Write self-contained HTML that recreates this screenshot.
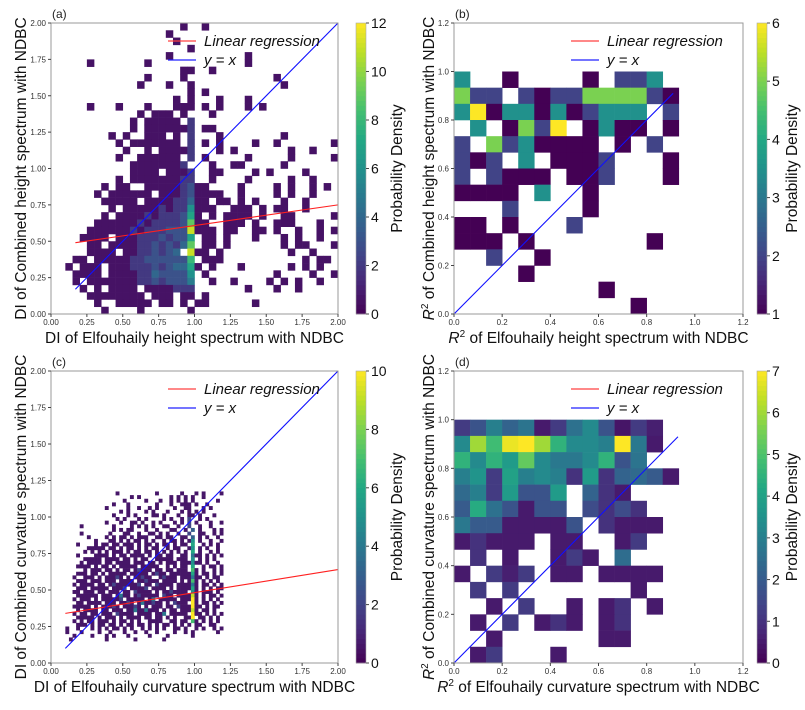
<!DOCTYPE html>
<html><head><meta charset="utf-8"><style>
body{margin:0;background:#fff}
svg text{font-family:"Liberation Sans",sans-serif}
</style></head><body>
<svg id="chart" width="805" height="705" viewBox="0 0 805 705" xmlns="http://www.w3.org/2000/svg"></svg>
<script>
// ---- data: panel (a) 2D histogram rows (top y=2.0 -> bottom y=0), 40 cols x 0..2 bin 0.05
const aRows = [
".......... ........1. .1........ ..........",
".......... ......1... .......... ..........",
".......... .......1.. .......... ..........",
".......... .........1 .......... ..........",
".......... ......1... .......1.. ..........",
".....1.... ...1...... .......1.. ..........",
".......... ........11 ..1....... ..........",
".......... ...1....1. .......... .1........",
".......... ..1...1..1 .......... ..1.......",
".......... .........1 .1........ ..........",
".......... .......1.1 ...1...1.. ..........",
".....1...1 ...1...111 .1.1...1.1 ..........",
".......... ..1.111.1. ..1....... ..........",
".......... .1.11111.2 .......... ..........",
".......... .1.1111112 .11....... ..........",
"........1. 1..111.1.2 ...1...... ..1.......",
".........1 .1111111.2 .1.1....1. .1.......1",
".......... 1..1.11112 ...1.1.... ...1..1...",
".........1 ..111111.2 .1.....1.. ...1.....1",
".......... .11111112. ..1..11... ..1.......",
".......... .1111.1112 ..11....1. 1....1....",
".........1 .111111122 ..1....1.. ...1..1...",
".......1.1 1..1111123 11....1... .1.1..1.1.",
"......1.11 1111.11123 1111..1... .1.1..1...",
".......111 11.1111224 11.11.1.1. ..1..1....",
"........1. 1111121226 111..111.1 .11..1....",
".......1.1 1112122237 1.1.1111.1 ..11.....1",
"......1111 1121222239 11..111.1. .111...1..",
".....11111 121222333b 111.11..11 .1..1..1.1",
"....1111.1 1122232337 .11.1...1. ..1.1..1..",
".....11.11 1122323249 .11.1..... ..1.11...1",
".....1111. 11223234.b 11.1...... ...1..1...",
"...11.1111 1223333338 .111...... .....1.11.",
"..1.111.11 1222323447 1.1...1... ...1.1.1..",
"...1111.11 1122433336 .1........ .1....1..1",
"...1.11111 1122323335 ..1..1.... 1.1.1..1..",
"....1.1.11 11.1111222 .......1.. .1..1.....",
".....11111 111.111.11 .1........ ..........",
"......1..1 1111.11.1. 11......1. ..........",
".......1.. ..1......1 .......... .........."
];
// panel (b): rows top (y 0.933-1.0) -> bottom, 14 cols bin 1/15
const bRows = [
[3.5,0,0,1,0,0,0,0,1,0,2,2,3.5,0],
[5,2,2,0,2,1,2,2,5,5,5,5,2,1],
[3.5,6,1,3.5,3.5,1,3.5,1,2,3.5,3.5,3.5,0,2],
[0,3.5,0,1,5,2,6,0,1,3.5,1,1,0,1],
[2,0,5,2,3.5,1,1,1,1,0,1,0,2,0],
[2,1,2,0,3.5,0,1,1,1,2,0,0,0,1],
[2,0,2,1,1,1,0,1,1,2,0,0,0,1],
[1,1,1,1,0,3.5,0,0,1,0,0,0,0,0],
[0,0,0,2,0,0,0,0,1,0,0,0,0,0],
[1,1,0,1,0,0,0,2,0,0,0,0,0,0],
[1,1,1,0,1,0,0,0,0,0,0,0,1,0],
[0,0,2,0,0,1,0,0,0,0,0,0,0,0],
[0,0,0,0,1,0,0,0,0,0,0,0,0,0],
[0,0,0,0,0,0,0,0,0,1,0,0,0,0],
[0,0,0,0,0,0,0,0,0,0,0,1,0,0]
];
// panel (c): rows top (y 1.15) -> bottom (y 0.15), 44 cols x 0.1..1.2 bin 0.025
const cRows = [
"........... ...1....... ...1......1 ...1.1....1",
"........... .......1.1. .......1.1. 1.1..1.....",
"........... .....1..... 1...1..1.1. 1.1......1.",
"........... ..1...1.... ...1...1..1 11.1..1....",
"........... 1.....1..1. .1.1....1.. 11...1.1...",
"........... ....1.1.... 1.1...1...1 .1.1.1.....",
"........... ..1...1.1.. ..11.1...1. .11.1...1..",
"........... ...1.1...1. 1....1.1..1 .2..1.1....",
"........... 1...1..11.1 ..1.1...1.1 .2.1...1..1",
"....1...... ..1....1.1. 1.1..11..1. .2..1..1...",
"........... ..1.1.11... 1..1...11.. 1.3.1...1.1",
"....1...... .1...11..1. .11.1.1..1. .2..11..1.1",
"......1.... 1.1.11.1.11 1..11.11..1 1.3.1.1..1.",
"........1.. .11.1.1.11. 1.1..1.11.1 .15.1..1..1",
"...1....1.1 1.11.111.1. 11.1.11.1.1 1.6..1.1.1.",
"......11111 .11.1.11.1. 1.11..1.11. .15.1.1..1.",
".....1.1.1. 1.111.1.11. 11.1.1.1.1. 1.6.1..1.1.",
"...1....111 1.1.11.1111 .1.11.11..1 1.411.1.1.1",
".....11111. 1111.11.1.1 1..11111.11 1.5.1.1.1..",
"....1.1111. 11.1111.111 .11.1.111.1 11511.1..1.",
"...1111.1.1 1.1.11111.1 1111..1.1.1 1.6..1.11.1",
".....1.111. 11.1.11.121 11.11.11.11 1.71.1..1.1",
"...111.11.1 .11111.1111 1.1211.1111 1161.11.1.1",
"..1..111.1. 11121.1.112 11..12111.1 11411.1.11.",
"...111.111. 111.1111.11 2111.1111.1 .171.1.1.1.",
"..1.1111.11 .121111112. 11.21111.11 1141.11.1.1",
"...111.1111 1.1112.1111 2.1111.1.11 1161.1.1.11",
"..11.111.11 .111.11.211 11.1.112111 1.51.111.1.",
"...111111.1 11.1411.121 1111.211.11 1191.1.11.1",
"..1.111.1.1 11112.11111 .14.11111.1 11a1.1.1.1.",
"...11.1111. 111.1121.14 11211.1.211 1.a1.11.1.1",
"..11111.1.1 1121.11121. 1.111.11.21 11a11.1.11.",
"...1.1111.1 1.111.11411 4111.1.11.1 1191.11.1..",
"..1.11.11.1 11.21111.11 11.114.1111 1.a11.1.1.1",
"...11111.1. 111.1.1111. 11.11.1.1.. 11a.11.1.1.",
"..1.1.11.11 1.1.11.1.1. .1111..11.1 1.71.1.1.1.",
"...111.1.11 .11.1.11.11 .1.1.11.1.1 .1.11..11..",
"1..1...1.1. 1.11.1.1..1 .1.1.1..11. 1..1.1..1.1",
"1...1....1. .1...1..1.. 1..1....1.. 1.1......1.",
"..1....1... 1.1...1.... .1....1.... ..1........",
".1......... 1.......1.. .....1..... ..........."
];
// panel (d): rows top (y 0.933-1.0) -> bottom
const dRows = [
[1.2,1.8,3,2.2,2.7,0.5,1.2,2.6,3.3,1.8,0.4,1.2,0.6,0],
[3.3,6,4.8,6.8,7,6,4.5,3.3,3.3,3,7,2.8,0.5,0],
[4.5,3.3,4.5,3.8,5.3,3.3,2.8,2.8,3.3,4.5,1.8,2.7,0,0],
[3,3.6,1.2,4,3,3.3,3,1,3.8,1,2.2,2.4,2,0.5],
[2.4,3,1.2,3.8,1.8,1.8,3.8,0,2.2,1,0.5,0,0,0],
[2,4.3,2.6,1.8,0.5,1.8,1.8,0,1.6,1,1.6,1,0,0],
[2.8,2,2,0.5,0.5,0.5,0.5,1.8,0,1,0.5,0.5,0.5,0],
[0.5,1,0.5,0.5,0.5,0,0.5,0.5,0,0,0.5,1.2,0,0],
[0,1,0,0.5,0,0,0.5,1.2,0.5,0,2.5,0,0,0],
[0.5,0,1.2,0.6,1.2,0,0.5,0.5,0,0.5,0.5,0.5,0.5,0],
[0,1.2,0,1.2,0,0,0,0,0,0,0,0.5,0,0],
[0,0,0.5,0,1.2,0,0,0.5,0,0.5,1,0,0.5,0],
[0,0.5,0,1.2,0,0.5,1,0.5,0,0.5,1,0,0,0],
[0,0,0.5,0,0,0,0,0,0,0.5,0.5,0,0,0],
[0,0.5,1.2,0,0,0,0.5,0,0,0,0,0,0,0]
];
// regression lines [x0,y0,x1,y1]
const aReg = [0.17,0.49,2.0,0.75];
const aIdent = [0.17,2.0];
const cReg = [0.1,0.34,2.0,0.64];
const cIdent = [0.1,2.0];
const bIdent = [0,0.91];
const dIdent = [0,0.93];
const ticks2 = [0,0.25,0.5,0.75,1.0,1.25,1.5,1.75,2.0];
const ticks12 = [0,0.2,0.4,0.6,0.8,1.0,1.2];
const cbA = [0,2,4,6,8,10,12], cbB = [1,2,3,4,5,6], cbC = [0,2,4,6,8,10], cbD = [0,1,2,3,4,5,6,7];

const svg = document.getElementById('chart');
const NS = 'http://www.w3.org/2000/svg';
function mk(tag, attrs, parent){const e=document.createElementNS(NS,tag);for(const k in attrs)e.setAttribute(k,attrs[k]);(parent||svg).appendChild(e);return e;}
const VS=[[0,'#440154'],[0.1,'#482475'],[0.2,'#414487'],[0.3,'#355f8d'],[0.4,'#2a788e'],[0.5,'#21918c'],[0.6,'#22a884'],[0.7,'#44bf70'],[0.8,'#7ad151'],[0.9,'#bddf26'],[1,'#fde725']];
function hx(h){return [1,3,5].map(i=>parseInt(h.substr(i,2),16));}
function viridis(t){t=Math.max(0,Math.min(1,t));for(let i=0;i<VS.length-1;i++){if(t<=VS[i+1][0]){const f=(t-VS[i][0])/(VS[i+1][0]-VS[i][0]);const a=hx(VS[i][1]),b=hx(VS[i+1][1]);return 'rgb('+a.map((v,j)=>Math.round(v+(b[j]-v)*f)).join(',')+')';}}return VS[10][1];}
function charVal(ch){if(ch==='.')return null;if(ch==='a')return 10;if(ch==='b')return 11;if(ch==='c')return 12;const d=parseInt(ch);return d===1?0.6:d;}

function panel(p){
  const g = mk('g',{});
  
  
  const xs=v=>p.px0+(v-p.xmin)/(p.xmax-p.xmin)*(p.px1-p.px0);
  const ys=v=>p.py1-(v-p.ymin)/(p.ymax-p.ymin)*(p.py1-p.py0);
  const cg=mk('g',{},g);
  
  
  const nr=p.rows.length;
  p.rows.forEach((row,ri)=>{
    const r=nr-1-ri;
    const vals = typeof row==='string' ? row.replace(/ /g,'').split('').map(charVal) : row.map(v=>v>0?v:null);
    vals.forEach((v,c)=>{
      if(v===null)return;
      const x0=xs(p.xoff+c*p.bw), x1=xs(p.xoff+(c+1)*p.bw);
      const y1=ys(p.yoff+r*p.bh), y0=ys(p.yoff+(r+1)*p.bh);
      const rc=mk('rect',{x:x0.toFixed(2),y:y0.toFixed(2),width:(x1-x0+0.3).toFixed(2),height:(y1-y0+0.3).toFixed(2),fill:viridis((v-p.vmin)/(p.vmax-p.vmin))},cg);
      
      
    });
  });
  if(p.reg){const l=mk('line',{x1:xs(p.reg[0]),y1:ys(p.reg[1]),x2:xs(p.reg[2]),y2:ys(p.reg[3]),stroke:'#ff2020','stroke-width':1.1},g);}
  const il=mk('line',{x1:xs(p.ident[0]),y1:ys(p.ident[0]),x2:xs(p.ident[1]),y2:ys(p.ident[1]),stroke:'#1010ff','stroke-width':1.1},g);
  
  
  const fr=mk('rect',{x:p.px0,y:p.py0,width:p.px1-p.px0,height:p.py1-p.py0,fill:'none',stroke:'#999','stroke-width':1},g);
  
  
  p.xt.forEach(t=>{const x=xs(t);mk('line',{x1:x,y1:p.py1,x2:x,y2:p.py1+3,stroke:'#444'},g);
    const tx=mk('text',{x:x,y:p.py1+11,'font-size':8,'text-anchor':'middle',fill:'#333'},g);tx.textContent=t.toFixed(p.dec);
    });
  p.yt.forEach(t=>{const y=ys(t);mk('line',{x1:p.px0-3,y1:y,x2:p.px0,y2:y,stroke:'#444'},g);
    const tx=mk('text',{x:p.px0-5,y:y+3,'font-size':8,'text-anchor':'end',fill:'#333'},g);tx.textContent=t.toFixed(p.dec);
    });
  const pl=mk('text',{x:p.px0+1,y:p.py0-5,'font-size':12,fill:'#222'},g);pl.textContent=p.letter;
  
  const xl=mk('text',{x:(p.px0+p.px1)/2,y:p.py1+29,'font-size':15.5,'text-anchor':'middle',fill:'#111'},g);xl.innerHTML=p.xlabel;
  
  const yc=(p.py0+p.py1)/2;
  const yl=mk('text',{x:p.ylx,y:yc,'font-size':15.5,'text-anchor':'middle',fill:'#111',transform:'rotate(-90 '+p.ylx+' '+yc+')'},g);yl.innerHTML=p.ylabel;
  
  const lg=mk('g',{},g);
  
  
  const lx=p.px0+117;
  mk('line',{x1:lx,y1:p.py0+18,x2:lx+28,y2:p.py0+18,stroke:'#ff4040','stroke-width':1.2},lg);
  const t1=mk('text',{x:lx+36,y:p.py0+23,'font-size':15,'font-style':'italic',fill:'#111'},lg);t1.textContent='Linear  regression';
  
  mk('line',{x1:lx,y1:p.py0+37,x2:lx+28,y2:p.py0+37,stroke:'#2020ff','stroke-width':1.2},lg);
  const t2=mk('text',{x:lx+36,y:p.py0+42,'font-size':15,'font-style':'italic',fill:'#111'},lg);t2.textContent='y = x';
  
  const cb=mk('g',{},g);
  
  
  const N=60,h=(p.py1-p.py0)/N;
  for(let i=0;i<N;i++){mk('rect',{x:p.cbx,y:p.py1-(i+1)*h,width:10,height:h+0.4,fill:viridis((i+0.5)/N)},cb);}
  mk('rect',{x:p.cbx,y:p.py0,width:10,height:p.py1-p.py0,fill:'none',stroke:'#aaa','stroke-width':0.6},cb);
  p.cbt.forEach(t=>{const y=p.py1-(t-p.vmin)/(p.vmax-p.vmin)*(p.py1-p.py0);
    mk('line',{x1:p.cbx+10,y1:y,x2:p.cbx+13,y2:y,stroke:'#444'},cb);
    const tx=mk('text',{x:p.cbx+15,y:y+5,'font-size':14,fill:'#111'},cb);tx.textContent=t;
    });
  const cx=p.cbx+p.cbt_off;
  const ct=mk('text',{x:cx,y:yc,'font-size':15.5,'text-anchor':'middle',fill:'#111',transform:'rotate(-90 '+cx+' '+yc+')'},cb);ct.textContent='Probability Density';
  
}
panel({name:'panel-a',letter:'(a)',rows:aRows,px0:51,px1:338,py0:23,py1:314,xmin:0,xmax:2,ymin:0,ymax:2,xoff:0,yoff:0,bw:0.05,bh:0.05,vmin:0,vmax:12,xt:ticks2,yt:ticks2,dec:2,reg:aReg,ident:aIdent,cbx:356,cbt:cbA,cbt_off:46,ylx:26,
  xlabel:'DI of Elfouhaily height spectrum with NDBC',ylabel:'DI of Combined height spectrum with NDBC'});
panel({name:'panel-b',letter:'(b)',rows:bRows,px0:454,px1:743,py0:23,py1:314,xmin:0,xmax:1.2,ymin:0,ymax:1.2,xoff:0,yoff:0,bw:1/15,bh:1/15,vmin:1,vmax:6,xt:ticks12,yt:ticks12,dec:1,reg:null,ident:bIdent,cbx:757,cbt:cbB,cbt_off:40,ylx:434,
  xlabel:'<tspan font-style="italic">R</tspan><tspan font-size="10" dy="-6">2</tspan><tspan dy="6"> of Elfouhaily height spectrum with NDBC</tspan>',ylabel:'<tspan font-style="italic">R</tspan><tspan font-size="10" dy="-6">2</tspan><tspan dy="6"> of Combined height spectrum with NDBC</tspan>'});
panel({name:'panel-c',letter:'(c)',rows:cRows,px0:51,px1:338,py0:371,py1:663,xmin:0,xmax:2,ymin:0,ymax:2,xoff:0.1,yoff:0.15,bw:0.025,bh:0.025,vmin:0,vmax:10,xt:ticks2,yt:ticks2,dec:2,reg:cReg,ident:cIdent,cbx:356,cbt:cbC,cbt_off:46,ylx:26,
  xlabel:'DI of Elfouhaily curvature spectrum with NDBC',ylabel:'DI of Combined curvature spectrum with NDBC'});
panel({name:'panel-d',letter:'(d)',rows:dRows,px0:454,px1:743,py0:371,py1:663,xmin:0,xmax:1.2,ymin:0,ymax:1.2,xoff:0,yoff:0,bw:1/15,bh:1/15,vmin:0,vmax:7,xt:ticks12,yt:ticks12,dec:1,reg:null,ident:dIdent,cbx:757,cbt:cbD,cbt_off:40,ylx:434,
  xlabel:'<tspan font-style="italic">R</tspan><tspan font-size="10" dy="-6">2</tspan><tspan dy="6"> of Elfouhaily curvature spectrum with NDBC</tspan>',ylabel:'<tspan font-style="italic">R</tspan><tspan font-size="10" dy="-6">2</tspan><tspan dy="6"> of Combined curvature spectrum with NDBC</tspan>'});
</script>
</body></html>
